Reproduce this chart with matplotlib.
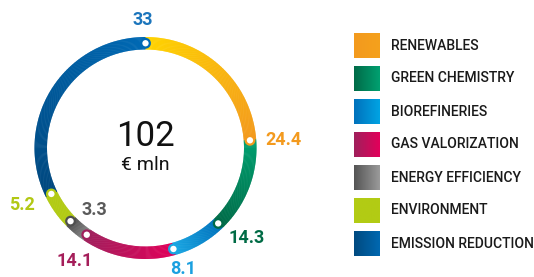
import numpy as np
import matplotlib.pyplot as plt
from matplotlib.patches import Wedge, Circle
from matplotlib.colors import to_rgb

# ---- data ----
categories = ["RENEWABLES", "GREEN CHEMISTRY", "BIOREFINERIES", "GAS VALORIZATION",
              "ENERGY EFFICIENCY", "ENVIRONMENT", "EMISSION REDUCTION"]
values = [24.4, 14.3, 8.1, 14.1, 3.3, 5.2, 33]
value_labels = ["24.4", "14.3", "8.1", "14.1", "3.3", "5.2", "33"]
total_label = "102"
unit_label = "€ mln"

# gradient colours along the ring (start -> end, clockwise)
ring_colors = [("#FFD400", "#F39A1E"), ("#00A070", "#006B48"), ("#0072BC", "#1AA7E3"),
               ("#E2005A", "#A0205C"), ("#8A8A8A", "#4F4F4F"), ("#B2CB14", "#B2CB14"),
               ("#00477E", "#0069B4")]
# legend swatch gradients (left -> right)
swatch_colors = [("#F39A1E", "#F5A11C"), ("#006B48", "#00A070"), ("#0072BC", "#00A3E3"),
                 ("#A0205C", "#E2005A"), ("#555555", "#9A9A9A"), ("#B2CB14", "#B2CB14"),
                 ("#004A80", "#0068B0")]
label_colors = ["#F39A1E", "#006B45", "#1AA0E0", "#A51E5A", "#5A5A5A", "#B2C814", "#1B75BC"]

# label offsets from each end dot (pixels), and alignment
label_offsets = [(15, 0), (10, -15), (10, -20), (-12, -26), (24, 11), (-29, -11), (-3, 23)]
label_ha = ["left", "left", "center", "center", "center", "center", "center"]

W, H = 534, 277
fig = plt.figure(figsize=(W / 100, H / 100), dpi=100)
ax = fig.add_axes([0, 0, 1, 1])
ax.set_xlim(0, W)
ax.set_ylim(0, H)
ax.set_aspect("equal")
ax.axis("off")

cx, cy = 145.5, 129
r_out, ring_w = 111, 12.5
r_mid = r_out - ring_w / 2

# ---- ring with gradients ----
total = sum(values)
angles = 90 - np.cumsum([0] + values) / total * 360
for i, v in enumerate(values):
    a0, a1 = angles[i], angles[i + 1]
    c0, c1 = np.array(to_rgb(ring_colors[i][0])), np.array(to_rgb(ring_colors[i][1]))
    n = max(int((a0 - a1) * 2), 2)
    steps = np.linspace(a0, a1, n + 1)
    for k in range(n):
        t = k / max(n - 1, 1)
        col = c0 + (c1 - c0) * t
        ax.add_patch(Wedge((cx, cy), r_out, steps[k + 1], steps[k] + 0.3, width=ring_w,
                           facecolor=col, edgecolor="none"))

# ---- end dots and value labels ----
for i in range(len(values)):
    a = np.deg2rad(angles[i + 1])
    px, py = cx + r_mid * np.cos(a), cy + r_mid * np.sin(a)
    ax.add_patch(Circle((px, py), 4.3, facecolor="white", edgecolor=ring_colors[i][1],
                        linewidth=1.6, zorder=5))
    dx, dy = label_offsets[i]
    ax.text(px + dx, py + dy, value_labels[i], color=label_colors[i], fontsize=13,
            fontweight="bold", family="Roboto", ha=label_ha[i], va="center")

# ---- centre text ----
ax.text(cx, H - 136, total_label, fontsize=25, ha="center", va="center", color="#111111",
        family="Roboto")
ax.text(cx, H - 165, unit_label, fontsize=14, ha="center", va="center", color="#111111",
        family="Roboto")

# ---- legend ----
sx, sw, sh = 354, 26, 25
for i, name in enumerate(categories):
    top = H - (33 + 33 * i)
    c0, c1 = np.array(to_rgb(swatch_colors[i][0])), np.array(to_rgb(swatch_colors[i][1]))
    grad = np.linspace(0, 1, 32)[None, :, None]
    img = c0 + (c1 - c0) * grad
    ax.imshow(img, extent=(sx, sx + sw, top - sh, top), aspect="auto", interpolation="bilinear")
    ax.text(391, top - sh / 2, name, fontsize=10, fontweight="medium", family="Roboto",
            color="#1A1A1A", ha="left", va="center")

ax.set_xlim(0, W)
ax.set_ylim(0, H)
fig.savefig("out.png", dpi=100)
